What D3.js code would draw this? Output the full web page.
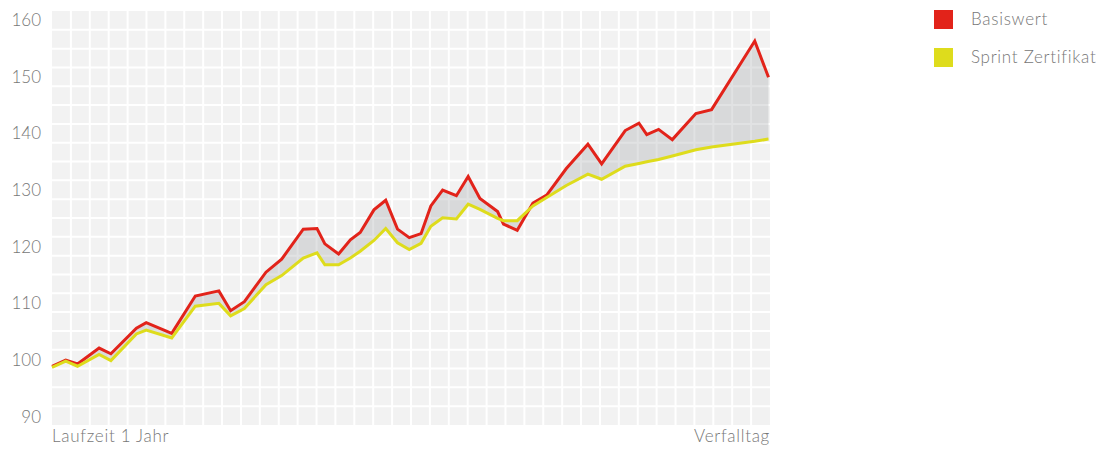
<!DOCTYPE html>
<html>
<head>
<meta charset="utf-8">
<script src="https://cdn.jsdelivr.net/npm/d3@7"></script>
<style>
    body { margin: 0; background: #fff; }
    svg { display: block; font-family: Lato, "Open Sans", sans-serif; }
    .lbl { letter-spacing: 0.7px; font-weight: 300; }
</style>
</head>
<body>
<svg id="chart" width="1107" height="450"></svg>
<script>
// days since start of the one-year term
const days = [0, 7, 13, 24, 30, 43, 48, 61, 73, 85, 91, 98, 109, 117, 128, 135, 139, 146, 152, 157,
    164, 170, 176, 182, 188, 193, 199, 206, 212, 218, 227, 230, 237, 245, 252, 262, 273, 280, 292, 299,
    303, 309, 316, 328, 336, 358, 365];

const basiswert = [98.9, 100.0, 99.3, 102.1, 101.1, 105.6, 106.6, 104.7, 111.3, 112.2, 108.7, 110.3,
    115.5, 117.8, 123.1, 123.2, 120.5, 118.7, 121.2, 122.5, 126.5, 128.2, 123.1, 121.6, 122.3, 127.2,
    130.0, 129.0, 132.4, 128.5, 126.2, 124.0, 122.9, 127.7, 129.1, 133.8, 138.1, 134.6, 140.5, 141.8,
    139.8, 140.7, 138.9, 143.5, 144.2, 156.3, 149.9];

const sprint = [98.7, 99.8, 98.9, 101.0, 99.9, 104.6, 105.3, 103.9, 109.5, 110.0, 107.8, 109.1,
    113.3, 114.9, 118.0, 118.9, 116.8, 116.8, 118.0, 119.2, 121.1, 123.2, 120.7, 119.5, 120.6, 123.6,
    125.1, 124.9, 127.5, 126.6, 125.0, 124.6, 124.6, 127.2, 128.7, 130.8, 132.8, 131.9, 134.2, 134.7,
    135.0, 135.4, 136.0, 137.1, 137.6, 138.6, 139.0];

const yTicks = [90, 100, 110, 120, 130, 140, 150, 160];
const seriesNames = ["Basiswert", "Sprint Zertifikat"];
const seriesColors = ["#e2231a", "#dedc1c"];
const xLabels = ["Laufzeit 1 Jahr", "Verfalltag"];

const svg = d3.select("#chart");
const plot = { left: 52, right: 770, top: 11, bottom: 425 };
const textColor = "#777777";

const x = d3.scaleLinear().domain([0, 365]).range([plot.left, plot.right - 1.5]);
const y = d3.scaleLinear().domain([88.53, 161.6]).range([plot.bottom, plot.top]);

const rows = days.map((d, i) => ({ day: d, red: basiswert[i], yellow: sprint[i] }));

// background with the square grid
svg.append("rect")
    .attr("x", plot.left).attr("y", plot.top)
    .attr("width", plot.right - plot.left).attr("height", plot.bottom - plot.top)
    .attr("fill", "#f2f2f2");

const cols = 38, rowsN = 22;
const cw = (plot.right - plot.left) / cols;
const rh = (plot.bottom - plot.top) / rowsN;
const gridG = svg.append("g").attr("stroke", "#fff").attr("stroke-width", 2);
gridG.selectAll("line.v")
    .data(d3.range(1, cols))
    .join("line")
    .attr("x1", i => plot.left + i * cw).attr("x2", i => plot.left + i * cw)
    .attr("y1", plot.top).attr("y2", plot.bottom);
gridG.selectAll("line.h")
    .data(d3.range(1, rowsN))
    .join("line")
    .attr("y1", i => plot.top + i * rh).attr("y2", i => plot.top + i * rh)
    .attr("x1", plot.left).attr("x2", plot.right);

// area between the two series
const area = d3.area()
    .x(d => x(d.day))
    .y0(d => y(d.yellow))
    .y1(d => y(d.red));
svg.append("path")
    .datum(rows)
    .attr("d", area)
    .attr("fill", "#9a9ea3")
    .attr("fill-opacity", 0.3);

const line = key => d3.line().x(d => x(d.day)).y(d => y(d[key]));
svg.append("path")
    .datum(rows)
    .attr("d", line("red"))
    .attr("fill", "none")
    .attr("stroke", seriesColors[0])
    .attr("stroke-width", 3)
    .attr("stroke-linejoin", "miter");
svg.append("path")
    .datum(rows)
    .attr("d", line("yellow"))
    .attr("fill", "none")
    .attr("stroke", seriesColors[1])
    .attr("stroke-width", 3)
    .attr("stroke-linejoin", "miter");

// y axis labels
const yAxis = d3.axisLeft(y).tickValues(yTicks).tickSize(0).tickPadding(11);
const yG = svg.append("g")
    .attr("transform", `translate(${plot.left},0)`)
    .call(yAxis);
yG.select(".domain").remove();
yG.selectAll("text")
    .attr("fill", textColor)
    .style("font-size", "17px")
    .style("font-weight", 300)
    .style("font-family", "Lato, 'Open Sans', sans-serif");

// x labels
svg.append("text")
    .attr("class", "lbl")
    .attr("x", plot.left).attr("y", 438)
    .attr("dominant-baseline", "middle")
    .attr("fill", textColor).attr("font-size", 17)
    .text(xLabels[0]);
svg.append("text")
    .attr("class", "lbl")
    .attr("x", plot.right).attr("y", 438)
    .attr("text-anchor", "end")
    .attr("dominant-baseline", "middle")
    .attr("fill", textColor).attr("font-size", 17)
    .text(xLabels[1]);

// legend
const legend = svg.append("g").attr("transform", "translate(934,10)");
const items = legend.selectAll("g")
    .data(seriesNames)
    .join("g")
    .attr("transform", (d, i) => `translate(0,${i * 38})`);
items.append("rect")
    .attr("width", 19).attr("height", 19)
    .attr("fill", (d, i) => seriesColors[i]);
items.append("text")
    .attr("class", "lbl")
    .attr("x", 37).attr("y", 11)
    .attr("dominant-baseline", "middle")
    .attr("fill", textColor).attr("font-size", 17)
    .text(d => d);
</script>
</body>
</html>
